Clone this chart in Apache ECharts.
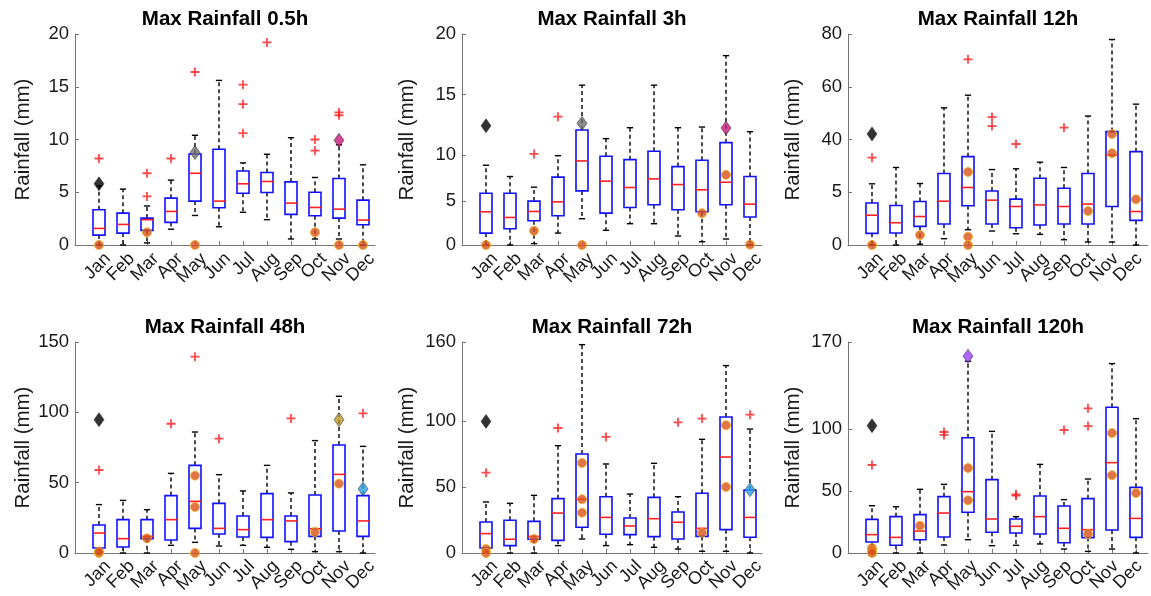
<!DOCTYPE html>
<html>
  <head>
    <meta charset="utf-8" />
    <script src="https://cdn.jsdelivr.net/npm/echarts@6.0.0/dist/echarts.min.js"></script>
  </head>
  <body style="margin: 0; background: #fff">
    <div id="main" style="width: 1151px; height: 596px"></div>

    <script type="text/javascript">
      const months = ["Jan", "Feb", "Mar", "Apr", "May", "Jun", "Jul", "Aug", "Sep", "Oct", "Nov", "Dec"];
      const titles = ["Max Rainfall 0.5h", "Max Rainfall 3h", "Max Rainfall 12h",
                      "Max Rainfall 48h", "Max Rainfall 72h", "Max Rainfall 120h"];

      // one row per month: [lower whisker, q1, median, q3, upper whisker]
      const box05h = [[0, 0.94, 1.57, 3.34, 5.6], [0, 1.13, 1.95, 3.02, 5.3], [0.2, 1.39, 2.4, 2.55, 3.7],
        [1.5, 2.14, 3.18, 4.44, 6.15], [2.8, 4.16, 6.8, 8.63, 10.4], [1.73, 3.53, 4.16, 9.07, 15.6],
        [3.1, 4.91, 5.8, 7.02, 7.78], [2.4, 4.98, 6.02, 6.87, 8.6], [0.57, 2.9, 3.97, 5.98, 10.17],
        [0.57, 2.77, 3.56, 5.0, 6.4], [0.57, 2.55, 3.4, 6.3, 9.5], [0, 1.92, 2.36, 4.25, 7.6]];
      const box3h = [[0, 1.13, 3.15, 4.91, 7.56], [0, 1.54, 2.61, 4.91, 6.49], [0.13, 2.3, 3.18, 4.16, 5.48],
        [1.13, 2.77, 4.09, 6.43, 8.47], [2.49, 5.13, 7.97, 10.9, 15.15], [1.39, 3.02, 6.05, 8.41, 10.08],
        [2.02, 3.56, 5.45, 8.09, 11.12], [2.02, 3.81, 6.27, 8.88, 15.15], [0.85, 3.34, 5.73, 7.43, 11.12],
        [0.31, 3.15, 5.23, 8.03, 11.18], [0.57, 3.81, 5.95, 9.7, 17.95], [0, 2.65, 3.87, 6.49, 10.74]];
      const box12h = [[0, 4.41, 11.3, 15.9, 23.2], [0, 4.54, 8.44, 15.0, 29.4], [0.3, 7.06, 10.8, 16.5, 23.3],
        [2.39, 7.94, 16.6, 27.1, 52.0], [5.8, 14.9, 21.8, 33.5, 56.8], [5.3, 7.94, 17.0, 20.5, 28.6],
        [4.28, 6.55, 14.6, 17.4, 28.9], [4.03, 7.56, 15.2, 25.3, 31.4], [2.0, 7.94, 14.6, 21.5, 29.4],
        [1.13, 7.94, 15.5, 27.1, 48.9], [1.13, 14.6, 34.1, 43.0, 77.9], [0, 9.32, 12.7, 35.4, 53.4]];
      const box48h = [[0, 3.55, 14.2, 19.9, 34.4], [0, 4.27, 10.2, 23.7, 37.4], [0, 10.2, 11.85, 23.7, 30.8],
        [5.45, 9.24, 23.7, 40.8, 56.6], [7.58, 17.5, 36.7, 62.3, 86.0], [4.98, 13.5, 17.5, 35.3, 55.7],
        [5.45, 11.4, 16.6, 26.3, 44.1], [4.03, 11.1, 23.7, 42.2, 62.3], [2.6, 8.06, 22.8, 26.3, 42.7],
        [0.95, 11.85, 17.3, 41.2, 79.9], [0.95, 15.6, 55.9, 76.8, 111.4], [0, 11.85, 22.8, 40.8, 75.8]];
      const box72h = [[0, 3.8, 14.7, 23.5, 38.7], [0, 5.6, 10.4, 24.8, 37.7], [0, 10.4, 12.6, 24.0, 43.7],
        [5.6, 9.6, 30.3, 41.2, 81.4], [10.6, 19.5, 40.7, 75.1, 158.0], [5.6, 14.2, 27.0, 42.7, 67.5],
        [6.3, 13.9, 20.5, 26.5, 44.7], [4.3, 12.4, 26.0, 42.2, 68.0], [3.0, 10.6, 23.3, 31.1, 42.7],
        [1.3, 12.6, 18.7, 45.3, 86.2], [1.3, 17.7, 72.8, 103.1, 142.1], [0, 11.9, 27.0, 47.8, 94.0]];
      const box120h = [[0, 8.9, 14.8, 27.1, 38.1], [0, 6.2, 12.6, 29.3, 37.3], [0, 10.7, 17.7, 30.9, 51.3],
        [6.4, 12.9, 32.2, 45.4, 55.3], [10.7, 32.8, 49.4, 92.9, 154.5], [5.9, 16.7, 27.4, 59.1, 98.0],
        [6.2, 16.1, 21.5, 27.4, 29.3], [7.3, 15.3, 29.3, 45.9, 71.4], [3.2, 8.3, 19.9, 37.9, 43.0],
        [1.3, 12.4, 18.8, 43.8, 59.6], [3.2, 18.5, 72.8, 117.4, 152.6], [0, 12.6, 27.9, 52.9, 108.2]];

      // outliers (+): [month number, value]
      const out05h = [[1, 8.2], [3, 6.8], [3, 4.6], [4, 8.2], [5, 16.4], [7, 15.2], [7, 13.35], [7, 10.6],
        [8, 19.2], [10, 10.0], [10, 8.95], [11, 12.57], [11, 12.3]];
      const out3h = [[3, 8.63], [4, 12.16]];
      const out12h = [[1, 33.1], [5, 70.4], [6, 48.5], [6, 45.1], [7, 38.3], [9, 44.5]];
      const out48h = [[1, 59.0], [4, 91.9], [5, 139.6], [6, 81.3], [9, 95.7], [12, 99.3]];
      const out72h = [[1, 60.9], [4, 94.8], [6, 88.0], [9, 99.1], [10, 101.9], [12, 104.9]];
      const out120h = [[1, 70.9], [4, 97.5], [4, 95.1], [7, 47.3], [7, 46.2], [9, 99.1], [10, 116.6], [10, 102.3]];

      // orange dots: [month number, value]
      const dot05h = [[1, 0], [3, 1.2], [5, 0], [10, 1.2], [11, 0], [12, 0]];
      const dot3h = [[1, 0], [3, 1.35], [5, 0], [10, 3.02], [11, 6.65], [12, 0.03]];
      const dot12h = [[1, 0], [3, 3.78], [5, 27.7], [5, 3.15], [5, 0], [10, 12.85], [11, 42.1], [11, 34.8], [12, 17.3]];
      const dot48h = [[1, 0], [1, 1], [3, 10.4], [5, 55.0], [5, 32.7], [5, 0], [10, 14.9], [11, 49.3]];
      const dot72h = [[1, 3.0], [1, 0], [3, 10.6], [5, 68.3], [5, 40.7], [5, 30.6], [10, 15.4], [11, 96.8], [11, 50.1]];
      const dot120h = [[1, 4], [1, 2], [1, 0], [3, 22.0], [5, 68.5], [5, 42.4], [10, 15.3], [11, 96.7], [11, 62.6], [12, 48.3]];

      // diamonds: [month number, value]
      const mark05h = [[1, 5.8], [5, 8.76], [11, 9.92]];
      const mark3h = [[1, 11.3], [5, 11.53], [11, 11.09]];
      const mark12h = [[1, 42.1]];
      const mark48h = [[1, 94.8], [11, 94.8], [12, 45.5]];
      const mark72h = [[1, 99.8], [12, 48.0]];
      const mark120h = [[1, 102.6], [5, 158.5]];
      const markColors05h = ["#000000", "#6f6f6f", "#c41a7c"];
      const markColors3h = ["#000000", "#6f6f6f", "#c41a7c"];
      const markColors12h = ["#000000"];
      const markColors48h = ["#000000", "#b8962c", "#2a9fe2"];
      const markColors72h = ["#000000", "#2a9fe2"];
      const markColors120h = ["#000000", "#9b3ff5"];

      // y axes: top value, tick positions and the text shown at them
      const yMax = [20, 20, 80, 150, 160, 170];
      const tickPos05h = [0, 5, 10, 15, 20];
      const tickPos3h = [0, 4.19, 8.5, 14.27, 20];
      const tickPos12h = [0, 20, 40, 60, 80];
      const tickPos48h = [0, 50, 100, 150];
      const tickPos72h = [0, 50, 100, 160];
      const tickPos120h = [0, 50, 100, 170];
      const tickLabels05h = ["0", "5", "10", "15", "20"];
      const tickLabels3h = ["0", "5", "10", "15", "20"];
      const tickLabels12h = ["0", "5", "40", "60", "80"];
      const tickLabels48h = ["0", "50", "100", "150"];
      const tickLabels72h = ["0", "50", "100", "160"];
      const tickLabels120h = ["0", "50", "100", "170"];

      const boxes = [box05h, box3h, box12h, box48h, box72h, box120h];
      const outs = [out05h, out3h, out12h, out48h, out72h, out120h];
      const dots = [dot05h, dot3h, dot12h, dot48h, dot72h, dot120h];
      const marks = [mark05h, mark3h, mark12h, mark48h, mark72h, mark120h];
      const markColors = [markColors05h, markColors3h, markColors12h, markColors48h, markColors72h, markColors120h];
      const tickPos = [tickPos05h, tickPos3h, tickPos12h, tickPos48h, tickPos72h, tickPos120h];
      const tickLabels = [tickLabels05h, tickLabels3h, tickLabels12h, tickLabels48h, tickLabels72h, tickLabels120h];

      // layout of the 2x3 panels
      const lefts = [75, 462, 848];
      const nameGaps = [41, 44, 44];
      const tops = [34, 342];
      const plotW = 300;
      const plotH = 211;
      const step = plotW / 12.5; // one month in px
      const labelShift = 0.37; // month text sits a bit right of its tick
      const font = "Liberation Sans, Arial, sans-serif";
      const axisColor = "#777";

      const plusPath = "path://M4,0H6V4H10V6H6V10H4V6H0V4H4Z";

      function renderBox(params, api) {
        const x = api.value(0);
        const lo = api.coord([x, api.value(1)]);
        const q1 = api.coord([x, api.value(2)]);
        const md = api.coord([x, api.value(3)]);
        const q3 = api.coord([x, api.value(4)]);
        const hi = api.coord([x, api.value(5)]);
        const half = api.size([0.25, 0])[0];
        const cap = api.size([0.13, 0])[0];
        const cx = q1[0];
        const dash = { stroke: "#000", lineWidth: 1.4, lineDash: [4, 3] };
        const solid = { stroke: "#000", lineWidth: 1.4 };
        return {
          type: "group",
          children: [
            { type: "line", shape: { x1: cx, y1: q3[1], x2: cx, y2: hi[1] }, style: dash },
            { type: "line", shape: { x1: cx, y1: q1[1], x2: cx, y2: lo[1] }, style: dash },
            { type: "line", shape: { x1: cx - cap, y1: hi[1], x2: cx + cap, y2: hi[1] }, style: solid },
            { type: "line", shape: { x1: cx - cap, y1: lo[1], x2: cx + cap, y2: lo[1] }, style: solid },
            { type: "rect", shape: { x: cx - half, y: q3[1], width: 2 * half, height: q1[1] - q3[1] },
              style: { fill: "rgba(0,0,0,0)", stroke: "#1010ff", lineWidth: 1.6 } },
            { type: "line", shape: { x1: cx - half, y1: md[1], x2: cx + half, y2: md[1] },
              style: { stroke: "#ff2020", lineWidth: 1.6 } },
          ],
        };
      }

      const option = { animation: false, backgroundColor: "#fff", title: [], grid: [], xAxis: [], yAxis: [], series: [] };
      const monthTicks = months.map((m, i) => i + 1);

      for (let p = 0; p < 6; p++) {
        const col = p % 3;
        const row = Math.floor(p / 3);
        const left = lefts[col];
        const top = tops[row];

        option.title.push({
          text: titles[p],
          left: left + plotW / 2,
          top: top - 25,
          textAlign: "center",
          padding: 0,
          textStyle: { fontFamily: font, fontSize: 20.5, fontWeight: "bold", color: "#000" },
        });
        option.grid.push({ left: left, top: top, width: plotW, height: plotH });

        option.xAxis.push({
          type: "value",
          gridIndex: p,
          min: 0,
          max: 12.5,
          splitLine: { show: false },
          axisLine: { show: true, lineStyle: { color: axisColor, width: 1 } },
          axisTick: { show: true, inside: true, length: 4, customValues: monthTicks, lineStyle: { color: axisColor } },
          axisLabel: { show: false },
        });

        const pos = tickPos[p];
        const labs = tickLabels[p];
        option.yAxis.push({
          type: "value",
          gridIndex: p,
          min: 0,
          max: yMax[p],
          name: "Rainfall (mm)",
          nameLocation: "middle",
          nameGap: nameGaps[col],
          nameTextStyle: { fontFamily: font, fontSize: 20.5, color: "#1a1a1a" },
          splitLine: { show: false },
          axisLine: { show: true, lineStyle: { color: axisColor, width: 1 } },
          axisTick: { show: true, inside: true, length: 4, customValues: pos, lineStyle: { color: axisColor } },
          axisLabel: {
            customValues: pos,
            showMinLabel: true,
            showMaxLabel: true,
            margin: 6,
            fontFamily: font,
            fontSize: 18.5,
            color: "#1a1a1a",
            formatter: (v) => {
              const i = pos.findIndex((t) => Math.abs(t - v) < 1e-6);
              return i >= 0 ? labs[i] : "";
            },
          },
        });

        option.series.push({
          type: "custom",
          xAxisIndex: p,
          yAxisIndex: p,
          renderItem: renderBox,
          data: boxes[p].map((b, i) => [i + 1].concat(b)),
          z: 2,
        });
        option.series.push({
          type: "scatter",
          xAxisIndex: p,
          yAxisIndex: p,
          symbol: plusPath,
          symbolSize: 9,
          itemStyle: { color: "#ff1a1a" },
          data: outs[p],
          z: 3,
        });
        option.series.push({
          type: "scatter",
          xAxisIndex: p,
          yAxisIndex: p,
          symbol: "circle",
          symbolSize: 9,
          itemStyle: { color: "#d95319", borderColor: "#edb120", borderWidth: 1 },
          data: dots[p],
          z: 4,
        });
        const mc = markColors[p];
        option.series.push({
          type: "scatter",
          xAxisIndex: p,
          yAxisIndex: p,
          symbol: "diamond",
          symbolSize: [10, 14],
          itemStyle: { color: (d) => mc[d.dataIndex], borderColor: "#222", borderWidth: 0.6 },
          data: marks[p],
          z: 5,
        });
      }

      // month names: a label-only category axis per panel, every label shown
      for (let p = 0; p < 6; p++) {
        const left = lefts[p % 3];
        const top = tops[Math.floor(p / 3)];
        option.grid.push({ left: left + (0.5 + labelShift) * step, top: top, width: 12 * step, height: plotH });
        option.xAxis.push({
          type: "category",
          gridIndex: 6 + p,
          data: months,
          boundaryGap: true,
          axisLine: { show: false },
          axisTick: { show: false },
          splitLine: { show: false },
          axisLabel: {
            interval: 0,
            rotate: 45,
            margin: 11,
            fontFamily: font,
            fontSize: 18,
            color: "#1a1a1a",
          },
        });
        option.yAxis.push({ type: "value", gridIndex: 6 + p, show: false, min: 0, max: 1 });
      }

      const chartContainer = document.getElementById("main");
      const myChart = echarts.init(chartContainer);
      myChart.setOption(option);
    </script>
  </body>
</html>
